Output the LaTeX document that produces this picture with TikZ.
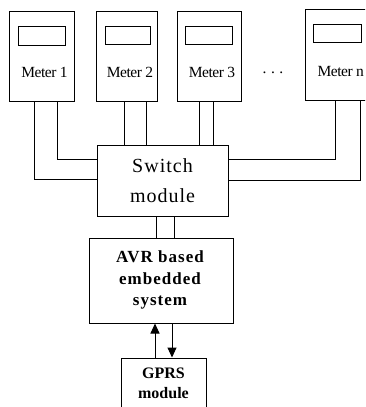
\documentclass[tikz,border=0pt]{standalone}
\usepackage{fontspec}
\setmainfont{Liberation Serif}
\usetikzlibrary{calc,arrows.meta}
\begin{document}
\begin{tikzpicture}[x=1pt,y=-1pt,line width=1pt,
  box/.style={draw,rectangle,inner sep=0pt},
  meter/.style={box,minimum height=90pt},
  disp/.style={box,minimum height=18.5pt,minimum width=47pt},
  mlabel/.style={font=\fontsize{15.5}{15}\selectfont\addfontfeature{LetterSpace=-3},inner sep=0pt},
  bl/.style={font=\fontsize{17}{21.5}\selectfont\bfseries\addfontfeature{LetterSpace=6},align=center,inner sep=0pt},
  arr/.style={-{Triangle[length=10pt,width=9pt]}}]
\useasboundingbox (0,0) rectangle (365,407);
\clip (0,0) rectangle (365,407);
% meters
\node[meter,minimum width=64.7pt] (m1) at (41.7,56) {};
\node[meter,minimum width=61pt] (m2) at (126.5,56) {};
\node[meter,minimum width=64pt] (m3) at (209,56) {};
\node[meter,minimum width=66pt,minimum height=91pt] (mn) at (338,54.7) {};
\node[disp] (d1) at (41.5,36) {};
\node[disp,minimum width=45pt] (d2) at (127.5,35.5) {};
\node[disp] (d3) at (208.5,35.5) {};
\node[disp,minimum width=48pt] (dn) at (337,33.5) {};
\node[mlabel] (t1) at (44.5,72.5) {Meter 1};
\node[mlabel] (t2) at (130,72.5) {Meter 2};
\node[mlabel] (t3) at (212,72.5) {Meter 3};
\node[mlabel,anchor=west] (tn) at (317,71.5) {Meter n};
\node[mlabel] (dots) at (273,73) {. . .};
% switch
\node[box,minimum width=131pt,minimum height=71pt,align=center,
  font=\fontsize{20}{30}\selectfont\addfontfeature{LetterSpace=5}] (sw) at (162.5,180.5) {Switch\\module};
% AVR
\node[box,minimum width=144pt,minimum height=85pt] (avr) at (161,280.5) {};
\node[bl] (avrt) at (160,280) {AVR based\\embedded\\system};
% GPRS
\node[box,minimum width=85pt,minimum height=64pt] (gp) at (163.5,390) {};
\node[font=\fontsize{16}{20}\selectfont\bfseries,align=center,inner sep=0pt] (gpt) at (163.5,383) {GPRS\\module};
% wires meter 1
\draw ($(m1.south)+(-7.7,0)$) |- ($(sw.west)+(0,-1.5)$);
\draw ($(m1.south)+(15.3,0)$) |- ($(sw.west)+(0,-21.5)$);
% meter 2
\path ($(m2.south)+(-2.5,0)$) coordinate (w2a) ($(m2.south)+(19.5,0)$) coordinate (w2b);
\draw (w2a) -- (w2a |- sw.north);
\draw (w2b) -- (w2b |- sw.north);
% meter 3
\path ($(m3.south)+(-10,0)$) coordinate (w3a) ($(m3.south)+(4,0)$) coordinate (w3b);
\draw (w3a) -- (w3a |- sw.north);
\draw (w3b) -- (w3b |- sw.north);
% meter n
\draw ($(mn.south)+(-3,0)$) |- ($(sw.east)+(0,-21.5)$);
\draw ($(mn.south)+(22.5,0)$) |- ($(sw.east)+(0,-0.5)$);
% switch to AVR
\path ($(sw.south)+(-6.5,0)$) coordinate (s1) ($(sw.south)+(11.5,0)$) coordinate (s2);
\draw (s1) -- (s1 |- avr.north);
\draw (s2) -- (s2 |- avr.north);
% AVR <-> GPRS
\path ($(gp.north)+(-8.5,0)$) coordinate (g1) ($(avr.south)+(11,0)$) coordinate (a2);
\draw[arr] (g1) -- (g1 |- avr.south);
\draw[arr] (a2) -- (a2 |- gp.north);
\end{tikzpicture}
\end{document}
